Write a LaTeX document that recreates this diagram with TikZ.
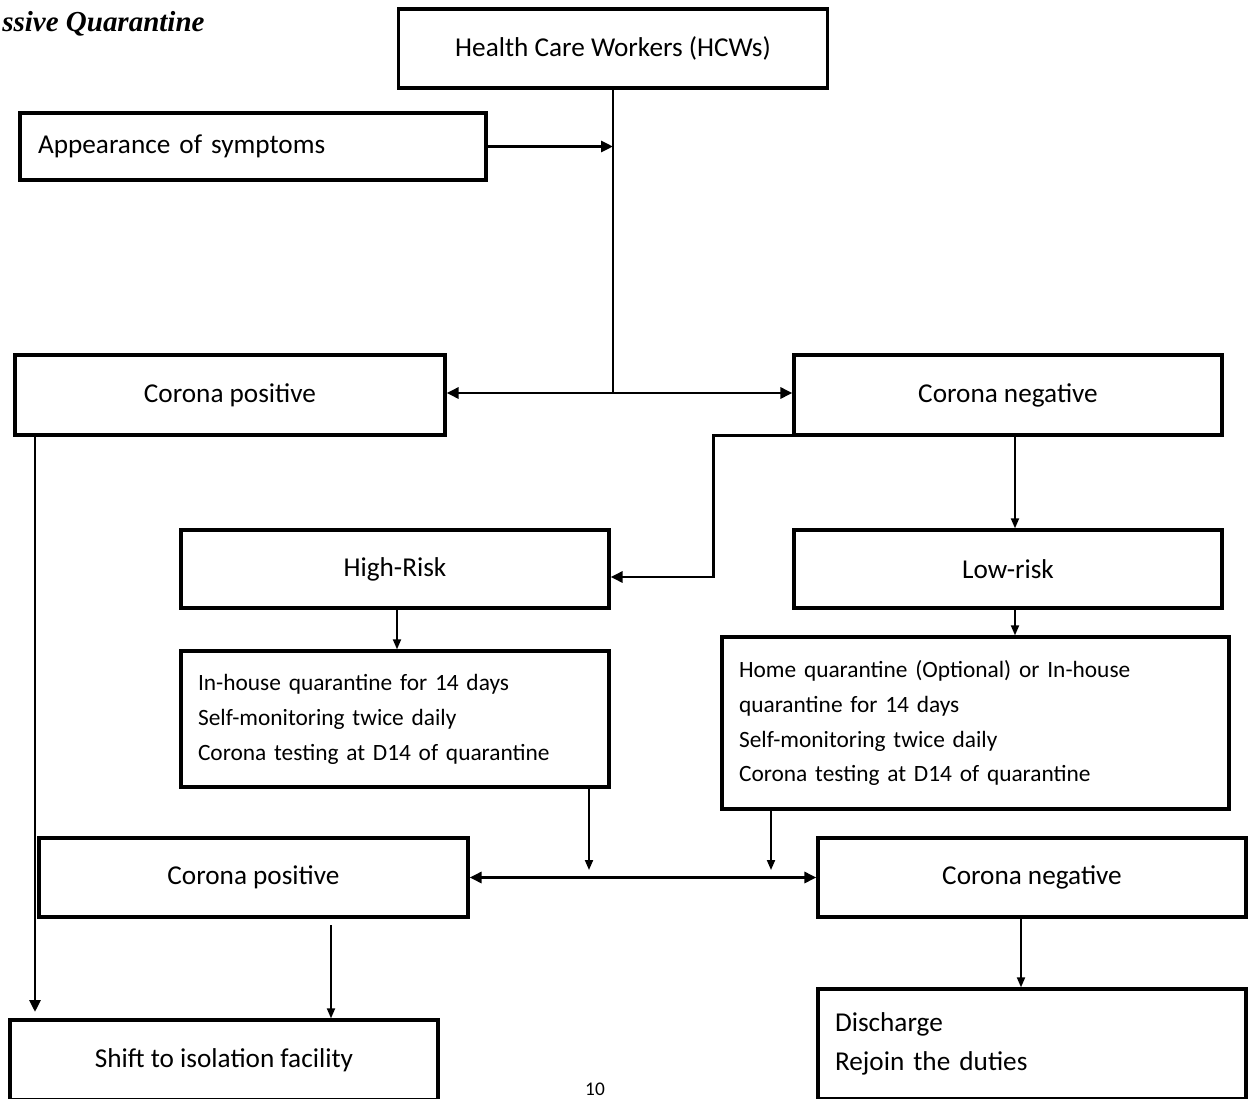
\documentclass[tikz,border=0pt]{standalone}
\usepackage{fontspec}
\setmainfont{Carlito}
\newfontfamily\titlefont{Liberation Serif}
\usetikzlibrary{arrows.meta}
\begin{document}
\begin{tikzpicture}[x=0.02cm,y=-0.02cm,
  bigfont/.style={font=\fontsize{15.5}{18}\selectfont},
  box/.style={draw, line width=1.9pt, inner sep=0pt, bigfont},
  lbox/.style={draw, line width=1.9pt, inner ysep=0pt, inner xsep=0.34cm, align=left},
  smallfont/.style={font=\fontsize{13.3}{19.9}\selectfont},
  thk/.style={line width=1.7pt},
  thkarr/.style={line width=1.7pt, -{Triangle[length=0.24cm,width=0.22cm]}},
  thkboth/.style={line width=1.7pt, {Triangle[length=0.24cm,width=0.22cm]}-{Triangle[length=0.24cm,width=0.22cm]}},
  thinarr/.style={line width=1.1pt, -{Triangle[length=0.2cm,width=0.16cm]}}
]
\useasboundingbox (0,0) rectangle (1249,1099);

\node[anchor=base west, inner sep=0pt, font=\titlefont\bfseries\itshape\fontsize{16.5}{19}\selectfont] (title) at (2,31) {ssive Quarantine};

\node[box, minimum width=8.58cm, minimum height=1.58cm] (hcw) at (613,48.5) {Health Care Workers (HCWs)};
\node[lbox, bigfont, inner xsep=0.36cm, text width=8.6cm, minimum height=1.34cm] (app) at (253,146.5) {Appearance of symptoms};

\node[box, minimum width=8.6cm, minimum height=1.6cm] (cp1) at (230,395) {Corona positive};
\node[box, minimum width=8.56cm, minimum height=1.6cm] (cn1) at (1008,395) {Corona negative};

\node[box, minimum width=8.56cm, minimum height=1.56cm] (hr) at (395,569) {High-Risk};
\node[box, minimum width=8.56cm, minimum height=1.56cm] (lr) at (1008,569) {Low-risk};

\node[lbox, smallfont, text width=7.88cm, minimum height=2.72cm] (ih) at (395,719)
  {In-house quarantine for 14 days\\Self-monitoring twice daily\\Corona testing at D14 of quarantine};
\node[lbox, smallfont, text width=9.46cm, minimum height=3.44cm] (hq) at (975.5,723)
  {Home quarantine (Optional) or In-house\\quarantine for 14 days\\Self-monitoring twice daily\\Corona testing at D14 of quarantine};

\node[box, minimum width=8.58cm, minimum height=1.58cm] (cp2) at (253.5,877.5) {Corona positive};
\node[box, minimum width=8.56cm, minimum height=1.58cm] (cn2) at (1032,877.5) {Corona negative};

\node[box, minimum width=8.56cm, minimum height=1.6cm] (sh) at (224,1060) {Shift to isolation facility};
\node[lbox, font=\fontsize{15.5}{22}\selectfont, text width=7.88cm, minimum height=2.2cm] (dc) at (1032,1044) {Discharge\\Rejoin the duties};

\node[anchor=north, font=\fontsize{11}{13}\selectfont, inner sep=0pt] (pg) at (595,1083) {10};

% connectors
\coordinate (j1) at (613,393);
\draw[thk] (hcw.south) -- (j1);
\draw[thkarr] (j1) -- (j1 -| cp1.east);
\draw[thkarr] (j1) -- (j1 -| cn1.west);
\draw[thkarr] (app.east) -- (app.east -| j1);

\draw[thkarr] ([xshift=0.44cm,yshift=0.03cm]cn1.south west) -- ++(-2.02cm,0) |- ([yshift=-0.16cm]hr.east);
\draw[thinarr] ([xshift=0.14cm]cn1.south) -- ([xshift=0.14cm]lr.north);
\draw[thinarr] ([xshift=0.04cm]hr.south) -- ([xshift=0.04cm]ih.north);
\draw[thinarr] ([xshift=0.14cm]lr.south) -- ([xshift=0.14cm]lr.south |- hq.north);

\coordinate (d1) at (589,870);
\coordinate (d2) at (771,870);
\draw[thinarr] (ih.south -| d1) -- (d1);
\draw[thinarr] (hq.south -| d2) -- (d2);
\draw[thkboth] (cp2.east) -- (cn2.west);

\coordinate (l1) at (35,1012);
\draw[thkarr] (cp1.south -| l1) -- (l1);
\coordinate (x3) at (331,925);
\draw[thinarr] (x3) -- (x3 |- sh.north);
\draw[thinarr] ([xshift=-0.22cm]cn2.south) -- ([xshift=-0.22cm]cn2.south |- dc.north);
\end{tikzpicture}
\end{document}
